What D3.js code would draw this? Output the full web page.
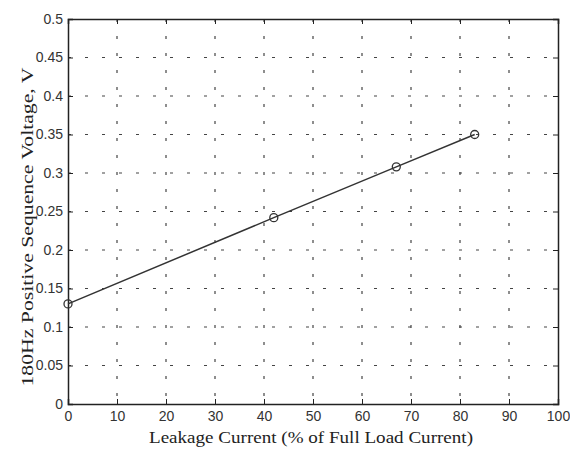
<!DOCTYPE html>
<html>
<head>
<meta charset="utf-8">
<script src="https://d3js.org/d3.v7.min.js"></script>
<style>
  body { margin: 0; background: #fff; }
  .tick text { font-family: "Liberation Sans", Arial, sans-serif; font-size: 14px; fill: #333; }
  .axis-label { font-family: "Liberation Serif", "Times New Roman", serif; font-size: 17px; fill: #222; }
</style>
</head>
<body>
<div id="chart-area"></div>
<script>
var leakage = [0, 42, 67, 83];
var voltage = [0.13, 0.242, 0.308, 0.35];
var xTicks = [0, 10, 20, 30, 40, 50, 60, 70, 80, 90, 100];
var yTicks = [0, 0.05, 0.1, 0.15, 0.2, 0.25, 0.3, 0.35, 0.4, 0.45, 0.5];

var margin = {top: 19, right: 12, bottom: 46, left: 68};
var width = 570 - margin.left - margin.right;
var height = 450 - margin.top - margin.bottom;

var svg = d3.select("#chart-area").append("svg")
    .attr("width", 570)
    .attr("height", 450);

var g = svg.append("g")
    .attr("transform", "translate(" + margin.left + "," + margin.top + ")");

var x = d3.scaleLinear().domain([0, 100]).range([0, width]);
var y = d3.scaleLinear().domain([0, 0.5]).range([height, 0]);

// grid
g.append("g").selectAll("line").data(xTicks.slice(1, -1)).enter()
    .append("line")
    .attr("x1", d => x(d)).attr("x2", d => x(d))
    .attr("y1", 0).attr("y2", height)
    .attr("stroke", "#444").attr("stroke-width", 1.2)
    .attr("stroke-dasharray", "3,14");
g.append("g").selectAll("line").data(yTicks.slice(1, -1)).enter()
    .append("line")
    .attr("y1", d => y(d)).attr("y2", d => y(d))
    .attr("x1", 0).attr("x2", width)
    .attr("stroke", "#444").attr("stroke-width", 1.2)
    .attr("stroke-dasharray", "3,14");

// axes
var bottomAxis = d3.axisBottom(x).tickValues(xTicks).tickSize(-5).tickPadding(7);
g.append("g")
    .attr("class", "x axis")
    .attr("transform", "translate(0," + height + ")")
    .call(bottomAxis);
var leftAxis = d3.axisLeft(y).tickValues(yTicks).tickSize(-5).tickPadding(5)
    .tickFormat(d => d === 0 ? "0" : String(+d.toFixed(2)));
g.append("g")
    .attr("class", "y axis")
    .call(leftAxis);
g.append("g")
    .call(d3.axisTop(x).tickValues(xTicks).tickSize(-5).tickFormat(""));
g.append("g")
    .attr("transform", "translate(" + width + ",0)")
    .call(d3.axisRight(y).tickValues(yTicks).tickSize(-5).tickFormat(""));

svg.selectAll(".domain").attr("stroke", "#222").attr("stroke-width", 1.5);
svg.selectAll(".tick line").attr("stroke", "#222");

// line + markers
var pts = leakage.map((d, i) => ({x: d, y: voltage[i]}));
g.append("path")
    .datum(pts)
    .attr("fill", "none")
    .attr("stroke", "#333")
    .attr("stroke-width", 1.5)
    .attr("d", d3.line().x(d => x(d.x)).y(d => y(d.y)));
g.selectAll("circle").data(pts).enter()
    .append("circle")
    .attr("cx", d => x(d.x))
    .attr("cy", d => y(d.y))
    .attr("r", 4)
    .attr("fill", "none")
    .attr("stroke", "#333")
    .attr("stroke-width", 1.3);

// labels
g.append("text")
    .attr("class", "axis-label")
    .attr("x", 243)
    .attr("y", height + 39)
    .attr("text-anchor", "middle")
    .attr("textLength", 324)
    .attr("lengthAdjust", "spacingAndGlyphs")
    .text("Leakage Current (% of Full Load Current)");
g.append("text")
    .attr("class", "axis-label")
    .attr("transform", "rotate(-90)")
    .attr("x", -208)
    .attr("y", -35)
    .attr("text-anchor", "middle")
    .attr("textLength", 319)
    .attr("lengthAdjust", "spacingAndGlyphs")
    .text("180Hz Positive Sequence Voltage, V");
</script>
</body>
</html>
